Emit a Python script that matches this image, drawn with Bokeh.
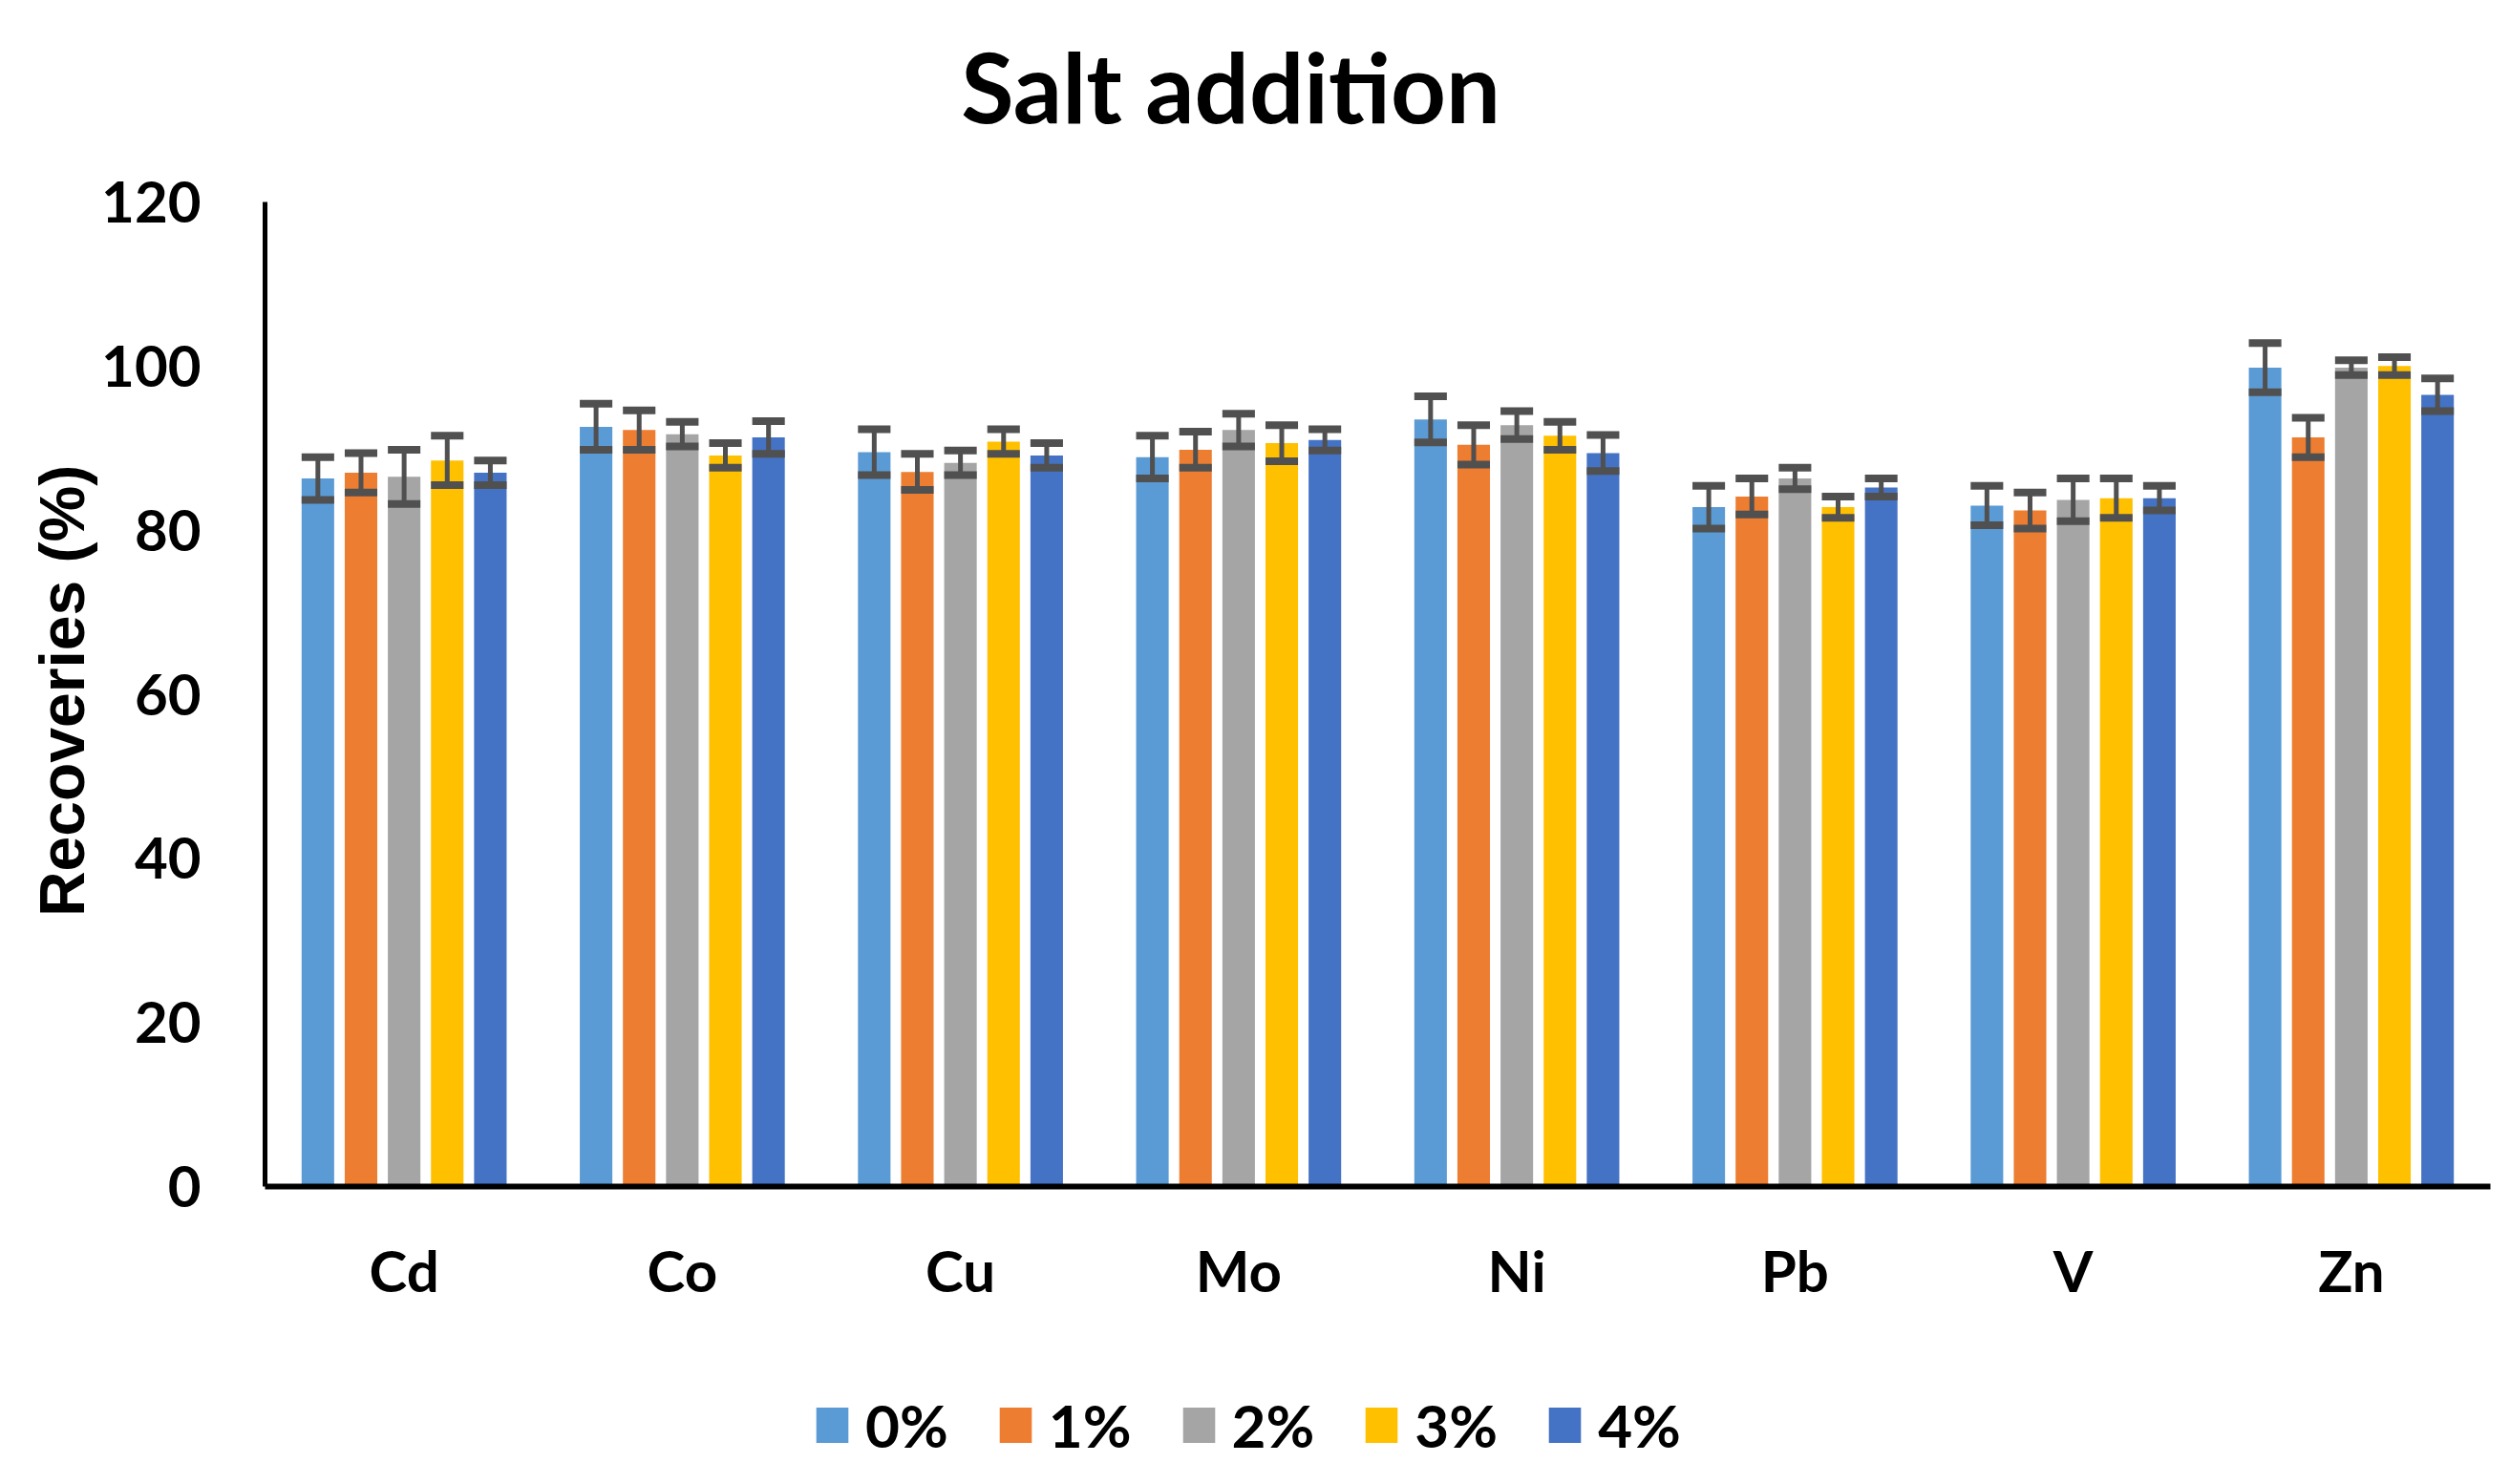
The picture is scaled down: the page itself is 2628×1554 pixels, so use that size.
import math
from bokeh.plotting import figure
from bokeh.models import (Range1d, Legend, LegendItem, ColumnDataSource,
                          FixedTicker, Label)
from bokeh.embed import file_html
from bokeh.resources import INLINE

# ---------------- data ----------------
elements = ["Cd", "Co", "Cu", "Mo", "Ni", "Pb", "V", "Zn"]
levels = ["0%", "1%", "2%", "3%", "4%"]

rec_0 = [86.3, 92.6, 89.5, 88.9, 93.5, 82.8, 83.0, 99.8]
rec_1 = [87.0, 92.2, 87.1, 89.8, 90.4, 84.1, 82.4, 91.3]
rec_2 = [86.5, 91.7, 88.2, 92.2, 92.8, 86.3, 83.7, 99.8]
rec_3 = [88.5, 89.1, 90.8, 90.6, 91.5, 82.8, 83.9, 100.0]
rec_4 = [87.0, 91.3, 89.1, 91.0, 89.4, 85.2, 83.9, 96.5]

err_0 = [2.6, 2.8, 2.8, 2.6, 2.8, 2.6, 2.4, 3.0]
err_1 = [2.4, 2.4, 2.2, 2.2, 2.4, 2.2, 2.2, 2.4]
err_2 = [3.3, 1.5, 1.5, 2.0, 1.7, 1.3, 2.6, 0.9]
err_3 = [3.0, 1.5, 1.5, 2.2, 1.7, 1.3, 2.4, 1.1]
err_4 = [1.5, 2.0, 1.5, 1.3, 2.2, 1.1, 1.5, 2.0]

y_ticks = [0, 20, 40, 60, 80, 100, 120]

series = [rec_0, rec_1, rec_2, rec_3, rec_4]
errors = [err_0, err_1, err_2, err_3, err_4]
colors = ["#5B9BD5", "#ED7D31", "#A5A5A5", "#FFC000", "#4472C4"]
err_color = "#505050"
FONT = "Lato"

# ---------------- layout (px in figure; frame = whole figure) ----------------
W, H = 2612, 1538
AX_LEFT, AX_RIGHT = 277, 2607     # pixel columns of the category axis ends
Y_TOP, Y0_PX = 211, 1242          # pixel rows of 120 and 0
n_cat = len(elements)
px_per_cat = (AX_RIGHT - AX_LEFT) / n_cat
px_per_unit = (Y0_PX - Y_TOP) / 120.0
x_lo = -AX_LEFT / px_per_cat
x_hi = (W - AX_LEFT) / px_per_cat
y_hi = 120 + Y_TOP / px_per_unit
y_lo = -(H - Y0_PX) / px_per_unit

p = figure(x_range=Range1d(x_lo, x_hi), y_range=Range1d(y_lo, y_hi),
           width=W, height=H, output_backend="svg", toolbar_location=None,
           min_border=0, min_border_left=0, min_border_right=0,
           min_border_top=0, min_border_bottom=0)
p.title.visible = False
p.outline_line_color = None
p.grid.visible = False
p.background_fill_color = "white"
p.border_fill_color = "white"

# category centres on the numeric axis
cat_x = [k + 0.5 for k in range(n_cat)]

pitch = 0.155
bw = 0.117
data = dict(el=elements)
for i in range(5):
    data[f"x{i}"] = [c + (i - 2) * pitch for c in cat_x]
    data[f"r{i}"] = series[i]
    data[f"lo{i}"] = [v - e for v, e in zip(series[i], errors[i])]
    data[f"hi{i}"] = [v + e for v, e in zip(series[i], errors[i])]
src = ColumnDataSource(data)

bars = []
for i in range(5):
    r = p.vbar(x=f"x{i}", top=f"r{i}", bottom=0, width=bw, source=src,
               fill_color=colors[i], line_color=None)
    bars.append(r)
for i in range(5):
    p.segment(x0=f"x{i}", y0=f"lo{i}", x1=f"x{i}", y1=f"hi{i}", source=src,
              line_color=err_color, line_width=5)
    p.rect(x=f"x{i}", y=f"hi{i}", width=bw, height=8, height_units="screen",
           source=src, fill_color=err_color, line_color=None)
    p.rect(x=f"x{i}", y=f"lo{i}", width=bw, height=8, height_units="screen",
           source=src, fill_color=err_color, line_color=None)

# ---------------- axes (drawn inside the frame) ----------------
for ax in (p.xaxis[0], p.yaxis[0]):
    ax.major_tick_line_color = None
    ax.minor_tick_line_color = None
    ax.major_tick_out = 0
    ax.major_tick_in = 0
    ax.axis_line_color = "black"
    ax.major_label_text_font = FONT
    ax.major_label_text_font_style = "bold"
    ax.major_label_text_font_size = "60px"
    ax.major_label_text_color = "black"

p.yaxis[0].ticker = FixedTicker(ticks=y_ticks)
p.yaxis[0].bounds = (0, 120)
p.yaxis[0].fixed_location = 0
p.yaxis[0].axis_line_width = 5
p.yaxis[0].major_label_standoff = 67

p.xaxis[0].ticker = FixedTicker(ticks=cat_x)
p.xaxis[0].major_label_overrides = {c: name for c, name in zip(cat_x, elements)}
p.xaxis[0].bounds = (0, n_cat)
p.xaxis[0].fixed_location = 0
p.xaxis[0].axis_line_width = 6
p.xaxis[0].major_label_standoff = 51

# ---------------- texts ----------------
p.add_layout(Label(x=1288, y=H - 89, x_units="screen", y_units="screen",
                   text="Salt addition", text_align="center",
                   text_baseline="alphabetic", text_font=FONT,
                   text_font_style="bold", text_font_size="101px",
                   text_color="black"))
p.add_layout(Label(x=64, y=H - 723, x_units="screen", y_units="screen",
                   text="Recoveries (%)", angle=math.pi / 2,
                   text_align="center", text_baseline="alphabetic",
                   text_font="Liberation Sans", text_font_style="bold",
                   text_font_size="66px", text_color="black"))

# ---------------- legend ----------------
legend = Legend(items=[LegendItem(label=lv, renderers=[b]) for lv, b in zip(levels, bars)],
                orientation="horizontal", location=(850, 9),
                glyph_width=42, glyph_height=46, label_standoff=14, spacing=49,
                padding=0, margin=0, border_line_color=None,
                background_fill_alpha=0, label_text_font=FONT,
                label_text_font_style="bold", label_text_font_size="62px",
                label_text_color="black")
p.add_layout(legend)

open("out.html", "w").write(file_html(p, INLINE))
